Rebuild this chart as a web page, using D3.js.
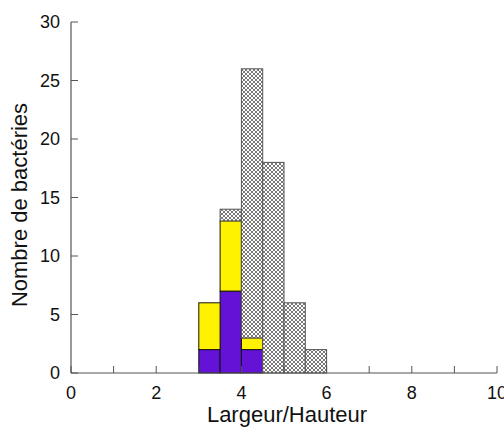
<!DOCTYPE html>
<html><head><meta charset="utf-8">
<script src="https://cdn.jsdelivr.net/npm/d3@7"></script>
<style>body{margin:0;background:#fff}svg{display:block}text{font-family:"Liberation Sans",Arial,sans-serif}</style>
</head><body>
<svg id="c" width="504" height="428"></svg>
<script>
const binStarts = [3, 3.5, 4, 4.5, 5, 5.5];
const binWidth = 0.5;
const purple = [2, 7, 2, 0, 0, 0];
const yellow = [4, 6, 1, 0, 0, 0];
const hatched = [0, 1, 23, 18, 6, 2];
const xTicks = [0, 2, 4, 6, 8, 10];
const yTicks = [0, 5, 10, 15, 20, 25, 30];

const svg = d3.select("#c");
const x = d3.scaleLinear().domain([0, 10]).range([71, 497]);
const y = d3.scaleLinear().domain([0, 30]).range([373, 22]);

const defs = svg.append("defs");
const pat = defs.append("pattern").attr("id", "hatch").attr("patternUnits", "userSpaceOnUse")
  .attr("width", 4).attr("height", 4);
pat.append("rect").attr("width", 4).attr("height", 4).attr("fill", "#fff");
pat.append("path").attr("d", "M0,0L4,4M4,0L0,4").attr("stroke", "#555").attr("stroke-width", 0.8);

const series = [
  {vals: purple, fill: "#6312d6", stroke: "#111"},
  {vals: yellow, fill: "#fff200", stroke: "#111"},
  {vals: hatched, fill: "url(#hatch)", stroke: "#555"}
];
const base = binStarts.map(() => 0);
series.forEach(s => {
  binStarts.forEach((b, i) => {
    const v = s.vals[i];
    if (v > 0) {
      svg.append("rect")
        .attr("x", x(b)).attr("width", x(b + binWidth) - x(b))
        .attr("y", y(base[i] + v)).attr("height", y(base[i]) - y(base[i] + v))
        .attr("fill", s.fill).attr("stroke", s.stroke).attr("stroke-width", 1);
      base[i] += v;
    }
  });
});

// axes
const axCol = "#555";
svg.append("line").attr("x1", x(0)).attr("x2", x(10)).attr("y1", y(0)).attr("y2", y(0)).attr("stroke", axCol).attr("stroke-width", 1.2);
svg.append("line").attr("x1", x(0)).attr("x2", x(0)).attr("y1", y(0)).attr("y2", y(30)).attr("stroke", axCol).attr("stroke-width", 1.2);
d3.range(0, 11).forEach(t => {
  svg.append("line").attr("x1", x(t)).attr("x2", x(t)).attr("y1", y(0)).attr("y2", y(0) - 7).attr("stroke", axCol);
});
yTicks.forEach(t => {
  svg.append("line").attr("x1", x(0)).attr("x2", x(0) + 7).attr("y1", y(t)).attr("y2", y(t)).attr("stroke", axCol);
  svg.append("text").attr("x", x(0) - 11).attr("y", y(t)).attr("dy", "0.36em").attr("text-anchor", "end")
    .attr("font-size", 18).attr("fill", "#111").text(t);
});
xTicks.forEach(t => {
  svg.append("text").attr("x", x(t)).attr("y", 393).attr("dy", "0.36em").attr("text-anchor", "middle")
    .attr("font-size", 18).attr("fill", "#111").text(t);
});
svg.append("text").attr("x", 287).attr("y", 422).attr("text-anchor", "middle")
  .attr("font-size", 22).attr("fill", "#111").text("Largeur/Hauteur");
svg.append("text").attr("transform", "translate(27,205) rotate(-90)").attr("text-anchor", "middle")
  .attr("font-size", 22).attr("fill", "#111").text("Nombre de bactéries");
</script>
</body></html>
